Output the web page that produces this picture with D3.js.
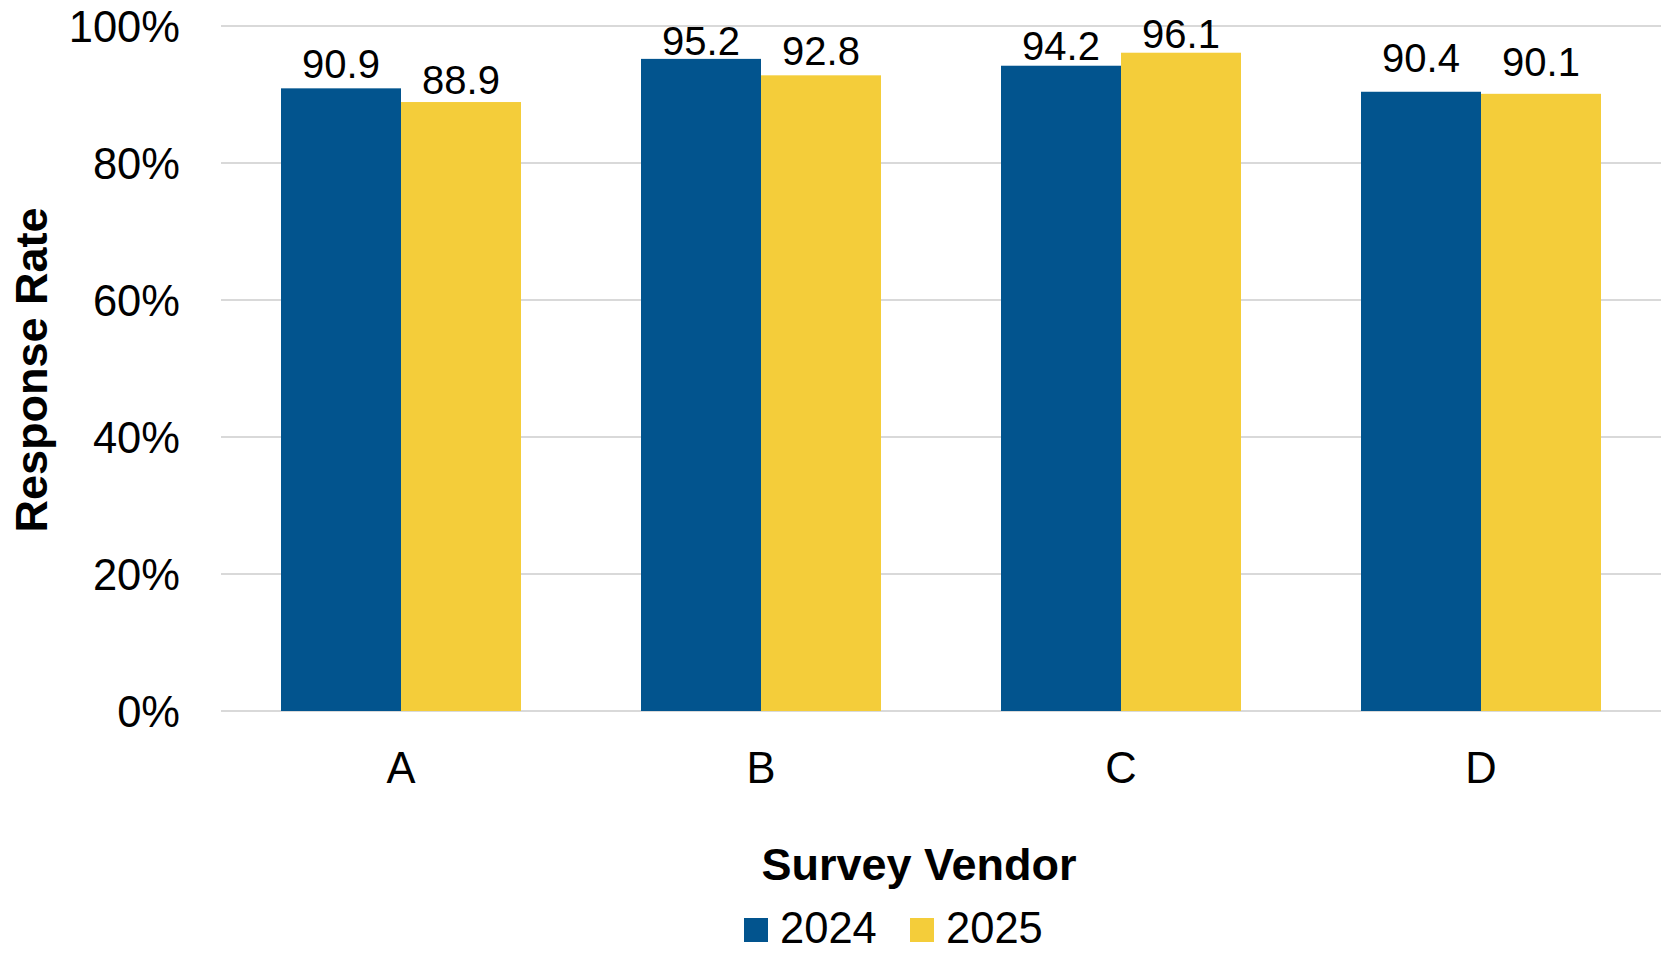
<!DOCTYPE html>
<html>
<head>
<meta charset="utf-8">
<script src="https://cdn.jsdelivr.net/npm/d3@7"></script>
<style>
  html, body { margin: 0; padding: 0; background: #ffffff; }
  svg { display: block; font-family: "Liberation Sans", Arial, sans-serif; }
</style>
</head>
<body>
<svg id="chart" width="1661" height="953"></svg>
<script>
// Response rate by survey vendor, 2024 vs 2025
const vendors = ["A", "B", "C", "D"];
const seriesNames = ["2024", "2025"];
const rate2024 = [90.9, 95.2, 94.2, 90.4];
const rate2025 = [88.9, 92.8, 96.1, 90.1];
const yTicks = [0, 20, 40, 60, 80, 100];

const colors = { "2024": "#02548e", "2025": "#f4cd3a" };
// Vertical gap (px) between each bar top and its value label
const labelGap = { "2024": [10, 4, 6, 20], "2025": [8, 10, 5, 18] };

const svg = d3.select("#chart");
const plot = { left: 221, right: 1661, top: 26, bottom: 711 };

const x = d3.scaleBand()
  .domain(vendors)
  .range([plot.left, plot.right])
  .paddingInner(1 / 3)
  .paddingOuter(1 / 6);

const xSeries = d3.scaleBand()
  .domain(seriesNames)
  .range([0, x.bandwidth()]);

const y = d3.scaleLinear().domain([0, 100]).range([plot.bottom, plot.top]);

// Gridlines
svg.append("g")
  .selectAll("line")
  .data(yTicks)
  .join("line")
  .attr("x1", plot.left)
  .attr("x2", plot.right)
  .attr("y1", d => y(d))
  .attr("y2", d => y(d))
  .attr("stroke", "#d9d9d9")
  .attr("stroke-width", 2);

// Y tick labels
svg.append("g")
  .selectAll("text")
  .data(yTicks)
  .join("text")
  .attr("x", 180)
  .attr("y", d => y(d) + 15.5)
  .attr("text-anchor", "end")
  .attr("font-size", 43.5)
  .attr("fill", "#000")
  .text(d => d + "%");

// Bars
const rows = vendors.map((v, i) => ({
  vendor: v,
  i,
  values: [
    { series: "2024", value: rate2024[i] },
    { series: "2025", value: rate2025[i] }
  ]
}));

const groups = svg.append("g")
  .selectAll("g")
  .data(rows)
  .join("g")
  .attr("transform", d => `translate(${x(d.vendor)},0)`);

groups.selectAll("rect")
  .data(d => d.values)
  .join("rect")
  .attr("x", d => xSeries(d.series))
  .attr("width", xSeries.bandwidth())
  .attr("y", d => y(d.value))
  .attr("height", d => y(0) - y(d.value))
  .attr("fill", d => colors[d.series]);

groups.selectAll("text")
  .data(d => d.values.map(v => ({ ...v, i: d.i })))
  .join("text")
  .attr("x", d => xSeries(d.series) + xSeries.bandwidth() / 2)
  .attr("y", d => y(d.value) - labelGap[d.series][d.i])
  .attr("text-anchor", "middle")
  .attr("font-size", 40)
  .attr("fill", "#000")
  .text(d => d.value.toFixed(1));

// Category labels
svg.append("g")
  .selectAll("text")
  .data(vendors)
  .join("text")
  .attr("x", d => x(d) + x.bandwidth() / 2)
  .attr("y", 783)
  .attr("text-anchor", "middle")
  .attr("font-size", 43.5)
  .attr("fill", "#000")
  .text(d => d);

// Axis titles
svg.append("text")
  .attr("x", 919)
  .attr("y", 880)
  .attr("text-anchor", "middle")
  .attr("font-size", 45)
  .attr("font-weight", "bold")
  .attr("fill", "#000")
  .text("Survey Vendor");

svg.append("text")
  .attr("transform", "translate(47,370) rotate(-90)")
  .attr("text-anchor", "middle")
  .attr("font-size", 45)
  .attr("font-weight", "bold")
  .attr("fill", "#000")
  .text("Response Rate");

// Legend
const legendX = [744, 910];
const legend = svg.append("g")
  .selectAll("g")
  .data(seriesNames)
  .join("g")
  .attr("transform", (d, i) => `translate(${legendX[i]},918)`);

legend.append("rect")
  .attr("width", 24)
  .attr("height", 24)
  .attr("fill", d => colors[d]);

legend.append("text")
  .attr("x", 36)
  .attr("y", 25)
  .attr("font-size", 43.5)
  .attr("fill", "#000")
  .text(d => d);
</script>
</body>
</html>
